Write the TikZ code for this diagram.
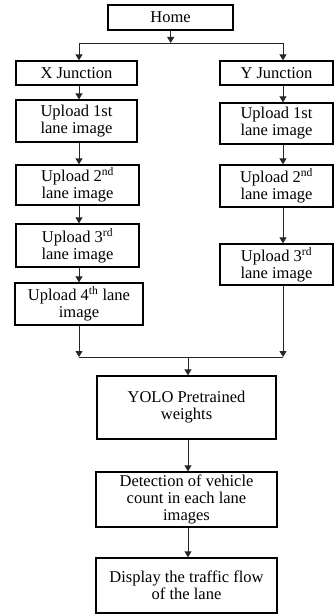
\documentclass[tikz,border=0pt]{standalone}
\usepackage{fontspec}
\setmainfont{Liberation Serif}
\usetikzlibrary{arrows.meta}
\begin{document}
\begin{tikzpicture}[x=1pt,y=-1pt,
  box/.style={draw=black,line width=1.3pt,inner sep=0pt,align=center,
    font=\fontsize{16.5}{17}\selectfont},
  conn/.style={draw=black!85,line width=0.9pt},
  arr/.style={conn,-{Triangle[length=6pt,width=7pt]}}]
\useasboundingbox (0,0) rectangle (336,615);
\node[box,minimum width=125pt,minimum height=25pt] (home) at (170.5,17.5) {Home};
\node[box,minimum width=121pt,minimum height=24pt] (xj) at (76.5,73) {X Junction};
\node[box,minimum width=113pt,minimum height=24pt] (yj) at (276.5,73) {Y Junction};
\node[box,minimum width=121pt,minimum height=42pt] (x1) at (76.5,121) {Upload 1st\\lane image};
\node[box,minimum width=123pt,minimum height=40pt] (x2) at (77.5,185) {Upload 2\textsuperscript{nd}\\lane image};
\node[box,minimum width=123pt,minimum height=43pt] (x3) at (77.5,245.5) {Upload 3\textsuperscript{rd}\\lane image};
\node[box,minimum width=128pt,minimum height=42pt] (x4) at (79,304) {Upload 4\textsuperscript{th} lane\\image};
\node[box,minimum width=113pt,minimum height=41pt] (y1) at (276.5,123.5) {Upload 1st\\lane image};
\node[box,minimum width=113pt,minimum height=42pt] (y2) at (276.5,186) {Upload 2\textsuperscript{nd}\\lane image};
\node[box,minimum width=113pt,minimum height=41pt] (y3) at (276.5,264.5) {Upload 3\textsuperscript{rd}\\lane image};
\node[box,minimum width=179pt,minimum height=63pt] (yolo) at (186.5,407.5) {YOLO Pretrained\\weights};
\node[box,minimum width=181pt,minimum height=55pt] (det) at (186.5,499.5) {Detection of vehicle\\count in each lane\\images};
\node[box,minimum width=181pt,minimum height=55pt] (disp) at (186.5,585.5) {Display the traffic flow\\of the lane};
\coordinate (cx) at (79,0);
\coordinate (cy) at (283,0);
\coordinate (split) at (170.7,43);
\coordinate (sl) at (79,43);
\coordinate (sr) at (283,43);
\coordinate (ml) at (79,357);
\coordinate (mr) at (283,357);
\coordinate (mm) at (188,357);
\draw[arr] (home.south -| split) -- (split);
\draw[conn] (sl) -- (sr);
\draw[arr] (sl) -- (xj.north -| sl);
\draw[arr] (sr) -- (yj.north -| sr);
\draw[arr] (xj.south -| cx) -- (x1.north -| cx);
\draw[arr] (x1.south -| cx) -- (x2.north -| cx);
\draw[arr] (x2.south -| cx) -- (x3.north -| cx);
\draw[arr] (x3.south -| cx) -- (x4.north -| cx);
\draw[arr] (yj.south -| cy) -- (y1.north -| cy);
\draw[arr] (y1.south -| cy) -- (y2.north -| cy);
\draw[arr] (y2.south -| cy) -- (y3.north -| cy);
\draw[arr] (x4.south -| cx) -- (ml);
\draw[arr] (y3.south -| cy) -- (mr);
\draw[conn] (ml) -- (mr);
\draw[arr] (mm) -- (yolo.north -| mm);
\draw[arr] (yolo.south -| mm) -- (det.north -| mm);
\draw[arr] (det.south -| mm) -- (disp.north -| mm);
\end{tikzpicture}
\end{document}
